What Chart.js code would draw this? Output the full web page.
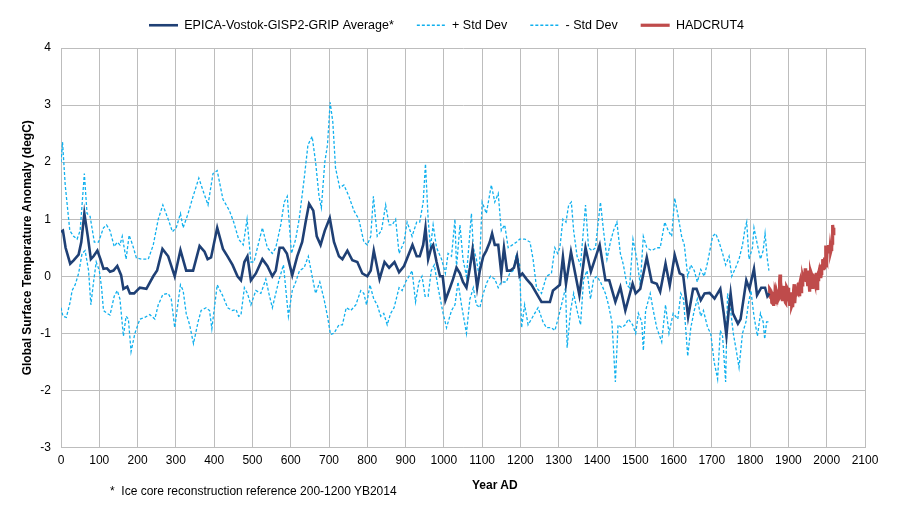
<!DOCTYPE html>
<html>
<head>
<meta charset="utf-8">
<script src="https://cdn.jsdelivr.net/npm/chart.js@4"></script>
<style>
  html, body { margin: 0; padding: 0; background: #ffffff; }
  #wrap { position: relative; width: 897px; height: 511px; background: #ffffff; }
  #c { position: absolute; left: 0; top: 0; }
  .txt { position: absolute; font-family: "Liberation Sans", Arial, sans-serif; font-size: 12px; color: #000; white-space: nowrap; }
</style>
</head>
<body>
<div id="wrap">
  <canvas id="c" width="897" height="511"></canvas>
  <div class="txt" id="xtitle" style="left:472px; top:478px; font-weight:bold;">Year AD</div>
  <div class="txt" id="note" style="left:110px; top:484px;">*&nbsp; Ice core reconstruction reference 200-1200 YB2014</div>
</div>
<script>
// ---- Data ----
const seriesNames = ["EPICA-Vostok-GISP2-GRIP Average*", "+ Std Dev", "- Std Dev", "HADCRUT4"];

const xTickValues = [0, 2100];      // x axis range, step 100
const yTickValues = [-3, 4];        // y axis range, step 1

const avgYears = [0,5,12,24,33,46,53,61,70,78,85,95,103,111,120,128,137,147,157,163,173,180,191,206,223,241,251,265,280,297,312,327,345,362,375,383,392,408,423,435,448,461,470,479,487,496,509,526,539,552,561,571,580,590,604,617,630,639,648,659,668,678,689,702,713,726,735,748,761,774,787,800,809,817,832,845,857,871,883,896,909,918,929,937,946,952,959,967,972,981,990,997,1004,1016,1024,1033,1042,1050,1059,1068,1075,1081,1087,1094,1103,1111,1120,1126,1133,1142,1150,1157,1165,1174,1183,1191,1198,1205,1216,1229,1242,1255,1266,1277,1285,1294,1303,1311,1319,1332,1354,1370,1384,1407,1422,1432,1448,1461,1474,1493,1501,1513,1530,1543,1556,1565,1579,1590,1603,1616,1625,1638,1651,1660,1671,1681,1694,1707,1722,1731,1738,1744,1749,1755,1768,1775,1790,1798,1810,1818,1829,1839,1845,1850];
const avgValues = [0.78,0.8,0.5,0.22,0.28,0.38,0.6,1.1,0.7,0.3,0.35,0.45,0.3,0.13,0.14,0.08,0.1,0.18,0.02,-0.22,-0.18,-0.3,-0.3,-0.2,-0.22,0.0,0.1,0.48,0.35,0.0,0.46,0.1,0.1,0.53,0.43,0.3,0.33,0.85,0.48,0.35,0.2,0.0,-0.07,0.25,0.35,-0.07,0.05,0.3,0.18,0.0,0.1,0.5,0.5,0.4,0.02,0.35,0.6,0.95,1.27,1.15,0.7,0.55,0.8,1.02,0.6,0.35,0.3,0.45,0.28,0.25,0.05,0.0,0.1,0.45,-0.05,0.25,0.15,0.25,0.07,0.18,0.4,0.55,0.35,0.35,0.55,0.85,0.3,0.5,0.55,0.25,0.0,0.0,-0.42,-0.2,-0.05,0.15,0.05,-0.1,-0.2,0.15,0.47,0.15,-0.2,0.1,0.35,0.45,0.6,0.75,0.55,0.55,0.05,0.5,0.1,0.1,0.15,0.35,0.0,0.05,-0.05,-0.15,-0.3,-0.45,-0.45,-0.45,-0.25,-0.2,-0.15,0.34,-0.13,0.43,-0.33,0.5,0.08,0.55,-0.07,-0.07,-0.45,-0.19,-0.6,-0.13,-0.3,-0.22,0.33,-0.1,-0.13,-0.27,0.22,-0.16,0.37,0.05,0.02,-0.71,-0.22,-0.22,-0.42,-0.3,-0.29,-0.39,-0.22,-0.65,-1.04,-0.6,-0.3,-0.65,-0.83,-0.75,-0.07,-0.22,0.13,-0.33,-0.2,-0.2,-0.35,-0.3];

const plusYears = [0,4,11,23,33,42,50,61,68,76,87,98,111,119,128,139,147,154,160,170,178,187,197,210,228,241,254,266,280,291,301,312,319,332,345,360,371,384,397,408,423,440,451,464,476,486,496,504,513,526,539,552,561,574,583,591,602,613,622,635,645,656,665,674,680,689,696,703,710,717,728,739,752,765,778,791,800,809,816,826,837,848,857,865,874,883,896,904,917,929,937,946,952,959,965,972,981,994,1004,1011,1020,1029,1033,1042,1050,1059,1072,1077,1085,1092,1100,1111,1124,1133,1142,1150,1159,1168,1179,1190,1198,1212,1225,1233,1242,1255,1268,1281,1290,1297,1303,1311,1319,1326,1333,1339,1348,1357,1370,1378,1387,1396,1409,1417,1426,1435,1443,1452,1461,1469,1478,1485,1494,1504,1513,1521,1530,1543,1556,1565,1577,1586,1595,1603,1612,1621,1628,1637,1645,1654,1662,1671,1680,1689,1702,1710,1719,1728,1736,1745,1752,1762,1771,1780,1787,1791,1797,1806,1810,1819,1827,1834,1839,1845,1849];
const plusValues = [2.0,2.35,1.6,0.8,0.7,0.65,0.8,1.8,1.1,1.05,0.6,0.6,0.85,0.9,0.8,0.52,0.6,0.55,0.7,0.3,0.72,0.55,0.32,0.3,0.3,0.55,1.0,1.25,1.0,0.78,0.85,1.1,0.85,1.1,1.4,1.72,1.5,1.25,1.8,1.85,1.35,1.15,0.95,0.65,0.55,1.0,0.25,0.25,0.5,0.85,0.5,0.4,0.5,0.9,1.3,1.4,0.4,0.65,1.0,1.7,2.3,2.45,2.0,1.4,1.2,2.0,2.3,3.05,2.7,1.9,1.55,1.6,1.4,1.15,1.0,0.6,0.55,0.7,1.4,0.7,0.8,1.25,0.9,0.9,1.0,0.4,0.6,0.95,0.7,0.95,0.95,1.3,1.97,1.0,0.5,0.9,0.5,0.3,0.05,0.4,0.35,1.0,0.15,0.9,0.3,0.0,1.1,0.5,0.3,0.0,1.3,1.1,1.6,1.3,1.45,0.8,0.9,0.5,0.55,0.6,0.65,0.65,0.6,0.3,-0.2,-0.3,0.0,0.05,0.5,0.4,0.5,1.0,0.95,1.25,1.3,0.8,0.35,0.2,1.25,0.5,0.45,0.5,1.3,0.8,0.3,0.6,0.8,0.95,0.4,0.2,-0.15,-0.2,0.65,0.3,-0.15,0.7,0.5,0.45,0.5,0.5,0.95,0.8,0.7,1.37,1.05,0.7,0.55,0.0,0.2,0.1,-0.1,0.12,0.0,0.25,0.7,0.75,0.6,0.4,0.2,0.35,0.0,0.15,0.3,0.55,0.85,0.95,0.3,0.5,0.85,0.55,0.3,0.45,0.75,0.3,0.1];

const minusYears = [0,5,14,24,29,37,46,55,63,72,78,85,92,100,106,111,120,128,139,147,154,163,170,176,183,193,206,219,232,245,254,266,280,288,297,312,319,327,336,346,358,366,379,388,394,408,423,435,447,457,464,470,479,487,496,509,522,535,543,552,561,570,581,594,604,613,623,635,646,656,665,676,687,696,704,713,726,735,745,757,770,783,791,798,807,817,826,835,843,852,861,870,883,891,900,909,917,926,935,943,951,959,967,975,985,998,1007,1020,1029,1037,1046,1059,1068,1077,1085,1094,1103,1113,1122,1133,1142,1150,1163,1172,1181,1190,1198,1203,1211,1220,1233,1246,1259,1268,1281,1290,1300,1309,1318,1322,1331,1339,1348,1357,1365,1374,1383,1391,1400,1409,1422,1430,1439,1448,1455,1465,1474,1482,1493,1501,1508,1517,1521,1527,1539,1547,1556,1569,1579,1588,1599,1611,1619,1626,1637,1645,1654,1662,1671,1678,1689,1697,1706,1715,1722,1728,1736,1741,1749,1756,1765,1771,1780,1789,1795,1802,1810,1819,1827,1834,1838,1843,1848];
const minusValues = [-0.55,-0.7,-0.72,-0.45,-0.25,-0.15,0.05,0.4,0.45,0.1,-0.5,-0.1,0.25,0.1,-0.2,-0.6,-0.65,-0.68,-0.35,-0.25,-0.4,-1.05,-0.7,-0.75,-1.32,-1.0,-0.75,-0.72,-0.67,-0.75,-0.5,-0.32,-0.3,-0.4,-0.9,-0.15,-0.25,-0.65,-0.85,-1.18,-0.8,-0.6,-0.55,-0.6,-0.92,-0.15,-0.35,-0.55,-0.6,-0.58,-0.7,-0.68,-0.2,-0.3,-0.5,-0.25,-0.3,-0.05,-0.3,-0.55,-0.3,-0.05,0.2,-0.7,-0.25,-0.1,0.1,0.15,0.35,0.0,-0.3,-0.1,-0.4,-0.7,-1.02,-1.0,-0.85,-0.85,-0.55,-0.6,-0.5,-0.25,-0.3,-0.5,-0.15,-0.4,-0.5,-0.7,-0.65,-0.85,-0.65,-0.55,-0.2,-0.25,-0.1,0.0,0.1,-0.45,-0.1,0.0,-0.35,-0.35,0.1,0.2,-0.2,-0.65,-0.9,-0.6,-0.5,-0.1,-0.5,-1.0,-0.4,-0.2,-0.5,-0.55,-0.3,-0.1,0.0,-0.05,-0.2,-0.1,-0.1,0.05,0.1,0.4,0.2,-0.9,-0.5,-0.85,-0.7,-0.55,-0.8,-0.9,-0.9,-0.95,-0.7,-0.45,-0.2,-1.25,-0.6,-0.3,-0.6,-0.85,-0.05,0.1,-0.4,-0.05,0.0,-0.1,-0.3,-0.5,-0.8,-1.85,-0.85,-0.9,-0.85,-0.75,-0.85,-1.0,-0.65,-0.8,-1.3,-0.6,-0.3,-0.6,-0.9,-1.15,-0.5,-1.0,-0.65,-0.75,-0.3,-0.4,-1.4,-0.9,-0.6,-0.4,-0.7,-0.6,-0.9,-1.0,-1.5,-1.8,-0.95,-1.05,-1.85,-0.3,-0.6,-1.0,-1.35,-1.6,-1.0,-0.8,-0.5,-0.25,-0.7,-1.05,-0.65,-0.8,-1.1,-0.8,-0.8];

const hadFirstYear = 1850;
const hadValues = [-0.37,-0.22,-0.23,-0.27,-0.25,-0.27,-0.36,-0.46,-0.47,-0.28,-0.34,-0.41,-0.52,-0.28,-0.49,-0.28,-0.25,-0.32,-0.24,-0.26,
 -0.28,-0.34,-0.23,-0.30,-0.37,-0.40,-0.38,-0.08,0.03,-0.23,-0.23,-0.20,-0.21,-0.30,-0.41,-0.39,-0.37,-0.42,-0.31,-0.17,
 -0.42,-0.33,-0.46,-0.47,-0.41,-0.39,-0.19,-0.21,-0.41,-0.29,-0.20,-0.26,-0.40,-0.48,-0.52,-0.38,-0.28,-0.47,-0.51,-0.52,
 -0.49,-0.54,-0.44,-0.42,-0.24,-0.14,-0.38,-0.47,-0.33,-0.28,-0.25,-0.19,-0.30,-0.28,-0.29,-0.22,-0.11,-0.21,-0.21,-0.35,
 -0.14,-0.09,-0.14,-0.27,-0.13,-0.18,-0.15,-0.03,-0.01,-0.05,0.01,0.02,-0.03,0.00,0.14,0.03,-0.07,-0.04,-0.04,-0.07,
 -0.17,-0.05,0.03,0.10,-0.13,-0.19,-0.27,-0.01,0.05,0.02,-0.05,0.04,0.01,0.05,-0.22,-0.14,-0.07,-0.07,-0.11,0.03,
 -0.03,-0.19,-0.07,0.06,-0.21,-0.15,-0.24,0.05,-0.06,0.06,0.09,0.14,0.01,0.19,-0.01,-0.03,0.05,0.19,0.20,0.12,
 0.30,0.25,0.11,0.15,0.21,0.33,0.18,0.39,0.54,0.31,0.29,0.44,0.50,0.51,0.45,0.55,0.51,0.49,0.40,0.51,
 0.56,0.43,0.47,0.51,0.58,0.80,0.90,0.80,0.72,0.85];

// ---- Build datasets from the arrays ----
const toXY = (xs, ys) => xs.map((x, i) => ({ x: x, y: ys[i] }));
const hadXY = hadValues.map((v, i) => ({ x: hadFirstYear + i, y: v }));

const FONT = '"Liberation Sans", Arial, sans-serif';
const gridColor = '#bdbdbd';

const legendPlugin = {
  id: 'legendTweak',
  beforeInit(chart) {
    const origFit = chart.legend.fit;
    chart.legend.fit = function () {
      origFit.call(this);
      this.height = 48;
    };
  },
  afterLayout(chart) {
    const lg = chart.legend;
    lg.left += 14; lg.right += 14;
    lg.top -= 4; lg.bottom -= 4;
  }
};

new Chart(document.getElementById('c'), {
  type: 'line',
  data: {
    datasets: [
      { label: seriesNames[0], data: toXY(avgYears, avgValues), borderColor: '#1f4075', backgroundColor: '#1f4075', borderWidth: 2.6, pointRadius: 0, tension: 0, fill: false },
      { label: seriesNames[1], data: toXY(plusYears, plusValues), borderColor: '#10b0ee', backgroundColor: '#10b0ee', borderWidth: 1.3, borderDash: [3, 2], pointRadius: 0, tension: 0, fill: false },
      { label: seriesNames[2], data: toXY(minusYears, minusValues), borderColor: '#10b0ee', backgroundColor: '#10b0ee', borderWidth: 1.3, borderDash: [3, 2], pointRadius: 0, tension: 0, fill: false },
      { label: seriesNames[3], data: hadXY, borderColor: '#bf4b4b', backgroundColor: '#bf4b4b', borderWidth: 3.2, pointRadius: 0, tension: 0, fill: false }
    ]
  },
  plugins: [legendPlugin],
  options: {
    responsive: false,
    animation: false,
    devicePixelRatio: 1,
    layout: { padding: { left: 0, right: 32, top: 0, bottom: 0 } },
    plugins: {
      tooltip: { enabled: false },
      legend: {
        display: true,
        position: 'top',
        align: 'center',
        labels: {
          usePointStyle: true,
          pointStyle: 'line',
          pointStyleWidth: 29,
          boxHeight: 12,
          padding: 23,
          color: '#000',
          font: { family: FONT, size: 12.5 },
          generateLabels(chart) {
            const items = Chart.defaults.plugins.legend.labels.generateLabels(chart);
            items.forEach(it => {
              const ds = chart.data.datasets[it.datasetIndex];
              it.lineDash = ds.borderDash || [];
              it.lineWidth = ds.borderWidth;
              it.strokeStyle = ds.borderColor;
            });
            return items;
          }
        }
      }
    },
    scales: {
      x: {
        type: 'linear',
        min: xTickValues[0],
        max: xTickValues[1],
        ticks: { stepSize: 100, color: '#000', font: { family: FONT, size: 12 }, padding: 6, maxRotation: 0, autoSkip: false, callback: v => String(v) },
        grid: { color: gridColor, lineWidth: 1, drawTicks: false },
        border: { color: gridColor },
        afterFit(scale) { scale.height = 63.5; }
      },
      y: {
        type: 'linear',
        min: yTickValues[0],
        max: yTickValues[1],
        ticks: { stepSize: 1, color: '#000', font: { family: FONT, size: 12 }, padding: 10, callback: v => String(v) },
        grid: { color: gridColor, lineWidth: 1, drawTicks: false },
        border: { color: gridColor },
        title: { display: true, text: 'Global Surface Temperature Anomaly (degC)', color: '#000', font: { family: FONT, size: 12, weight: 'bold' }, padding: { top: 20, bottom: 0 } },
        afterFit(scale) { scale.width = 61; }
      }
    }
  }
});
</script>
</body>
</html>
